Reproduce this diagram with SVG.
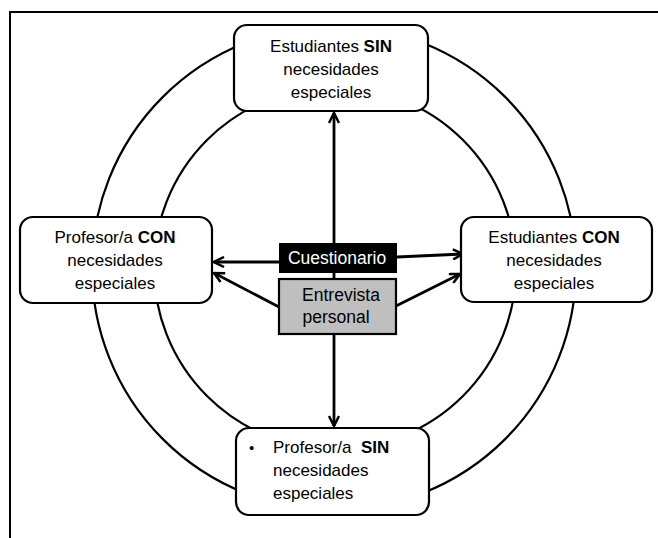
<svg xmlns="http://www.w3.org/2000/svg" width="658" height="538" viewBox="0 0 658 538">
<defs>
<style>
.frame{fill:none;stroke:#000;stroke-width:2}
.ring{fill:none;stroke:#000;stroke-width:2.2}
.box{fill:#fff;stroke:#000;stroke-width:2.2}
.t{font-family:"Liberation Sans",Arial,sans-serif;font-size:17px;fill:#000;text-anchor:middle}
.tl{font-family:"Liberation Sans",Arial,sans-serif;font-size:17px;fill:#000}
.b{font-weight:bold}
.conn{fill:none;stroke:#000;stroke-width:2.8}
</style>
<marker id="arr" viewBox="0 0 12 12" refX="11" refY="6" markerWidth="12" markerHeight="12" markerUnits="userSpaceOnUse" orient="auto">
<path d="M1,1 L11,6 L1,11" fill="none" stroke="#000" stroke-width="2.5" stroke-linejoin="miter"/>
</marker>
</defs>
<rect width="658" height="538" fill="#fff"/>
<path class="frame" d="M10,538 V12 H658"/>
<circle class="ring" cx="334" cy="268" r="242"/>
<circle class="ring" cx="335" cy="268" r="181"/>
<g id="connectors">
<line class="conn" x1="334" y1="243" x2="334" y2="113" marker-end="url(#arr)"/>
<line class="conn" x1="334" y1="273" x2="334" y2="279"/>
<line class="conn" x1="334" y1="334" x2="334" y2="426" marker-end="url(#arr)"/>
<line class="conn" x1="279" y1="262" x2="214" y2="262" marker-end="url(#arr)"/>
<line class="conn" x1="397" y1="257" x2="463" y2="254" marker-end="url(#arr)"/>
<line class="conn" x1="279" y1="307" x2="214" y2="273" marker-end="url(#arr)"/>
<line class="conn" x1="396" y1="306" x2="460" y2="274" marker-end="url(#arr)"/>
</g>
<g id="node-top">
<rect class="box" x="234" y="25" width="194" height="86" rx="13"/>
<text class="t" x="331" y="52">Estudiantes <tspan class="b">SIN</tspan></text>
<text class="t" x="331" y="75">necesidades</text>
<text class="t" x="331" y="98">especiales</text>
</g>
<g id="node-left">
<rect class="box" x="20" y="217" width="192" height="86" rx="13"/>
<text class="t" x="115" y="243">Profesor/a <tspan class="b">CON</tspan></text>
<text class="t" x="115" y="266">necesidades</text>
<text class="t" x="115" y="289">especiales</text>
</g>
<g id="node-right">
<rect class="box" x="461" y="217" width="191" height="85" rx="13"/>
<text class="t" x="554" y="243">Estudiantes <tspan class="b">CON</tspan></text>
<text class="t" x="554" y="266">necesidades</text>
<text class="t" x="554" y="289">especiales</text>
</g>
<g id="node-bottom">
<rect class="box" x="236" y="428" width="193" height="87" rx="13"/>
<text class="tl" x="249" y="453" style="font-size:15px">•</text>
<text class="tl" x="273" y="453" xml:space="preserve">Profesor/a  <tspan class="b">SIN</tspan></text>
<text class="tl" x="273" y="476">necesidades</text>
<text class="tl" x="273" y="499">especiales</text>
</g>
<g id="node-cuestionario">
<rect x="279" y="243" width="118" height="30" fill="#000"/>
<text class="t" x="337" y="264" style="fill:#fff;font-size:17.5px">Cuestionario</text>
</g>
<g id="node-entrevista">
<rect x="279" y="279" width="117" height="55" fill="#bfbfbf" stroke="#000" stroke-width="2.2"/>
<text class="t" x="341" y="301" style="font-size:17.5px">Entrevista</text>
<text class="t" x="336" y="323" style="font-size:17.5px">personal</text>
</g>
</svg>
